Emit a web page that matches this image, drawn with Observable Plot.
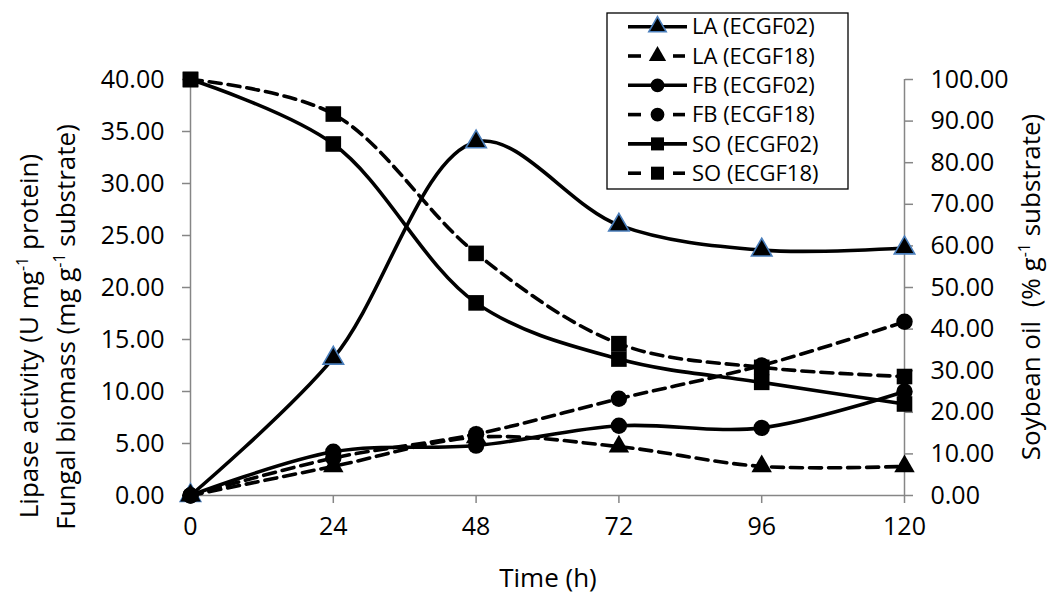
<!DOCTYPE html>
<html>
<head>
<meta charset="utf-8">
<script src="https://cdn.jsdelivr.net/npm/d3@7"></script>
<script src="https://cdn.jsdelivr.net/npm/@observablehq/plot@0.6"></script>
<style>
  body { margin: 0; background: #fff; font-family: "Open Sans", sans-serif; }
  #wrap { position: relative; width: 1047px; height: 594px; overflow: hidden; }
</style>
</head>
<body>
<div id="wrap"></div>
<script>
// ---- data ----
const time = [0, 24, 48, 72, 96, 120];
const xTicks = [0, 24, 48, 72, 96, 120];
const leftTicks = [0, 5, 10, 15, 20, 25, 30, 35, 40];
const rightTicks = [0, 10, 20, 30, 40, 50, 60, 70, 80, 90, 100];

// Lipase activity (U mg-1 protein) – left axis
const laECGF02 = [0, 13.2, 34.0, 26.0, 23.6, 23.8];
const laECGF18 = [0, 2.8, 5.6, 4.7, 2.8, 2.8];
// Fungal biomass (mg g-1 substrate) – left axis
const fbECGF02 = [0, 4.2, 4.8, 6.7, 6.5, 10.0];
const fbECGF18 = [0, 3.6, 5.9, 9.3, 12.5, 16.7];
// Soybean oil (% g-1 substrate) – right axis
const soECGF02 = [100, 84.5, 46.3, 32.8, 27.2, 22.0];
const soECGF18 = [100, 91.7, 58.2, 36.5, 30.8, 28.6];

const seriesNames = ["LA (ECGF02)", "LA (ECGF18)", "FB (ECGF02)", "FB (ECGF18)", "SO (ECGF02)", "SO (ECGF18)"];
const seriesValues = [laECGF02, laECGF18, fbECGF02, fbECGF18, soECGF02, soECGF18];
const seriesAxis = ["left", "left", "left", "left", "right", "right"];
const seriesDashed = [false, true, false, true, false, true];
const seriesSymbol = ["triangle", "triangle", "circle", "circle", "square", "square"];

const leftMax = 40, rightMax = 100;
const ratio = rightMax / leftMax;

const rows = [];
seriesNames.forEach((name, k) => {
  time.forEach((t, i) => {
    rows.push({ series: name, t, value: seriesValues[k][i], axis: seriesAxis[k], k });
  });
});
const yOf = d => d.axis === "right" ? d.value / ratio : d.value;

const grey = "#868686";
const markerStyle = {
  triangle: { r: 7.6 },
  circle: { r: 8.2 },
  square: { r: 8.8 }
};
const tickFont = 25;
const titleFont = 26;

const marks = [
  Plot.ruleY([0], { stroke: grey, strokeWidth: 1.5 }),
  Plot.ruleX([0], { stroke: grey, strokeWidth: 1.5 }),
  Plot.ruleX([120], { stroke: grey, strokeWidth: 1.5 }),
  Plot.axisX({ ticks: xTicks, tickSize: 8, tickPadding: 14, stroke: grey, strokeWidth: 1.5, fill: "#000", fontSize: tickFont, label: null, tickFormat: d => String(d) }),
  Plot.axisY({ anchor: "left", ticks: leftTicks, tickSize: 8, tickPadding: 18, stroke: grey, strokeWidth: 1.5, fill: "#000", fontSize: tickFont, label: null, tickFormat: d => d.toFixed(2) }),
  Plot.axisY({ anchor: "right", ticks: rightTicks.map(v => v / ratio), tickSize: 8, tickPadding: 18, stroke: grey, strokeWidth: 1.5, fill: "#000", fontSize: tickFont, label: null, tickFormat: d => (d * ratio).toFixed(2) })
];

seriesNames.forEach((name, k) => {
  const data = rows.filter(d => d.k === k);
  marks.push(Plot.line(data, {
    x: "t", y: yOf, curve: "catmull-rom", stroke: "#000", strokeWidth: 3.6,
    strokeDasharray: seriesDashed[k] ? "12,7" : null
  }));
});
seriesNames.forEach((name, k) => {
  const data = rows.filter(d => d.k === k);
  const sym = seriesSymbol[k];
  marks.push(Plot.dot(data, {
    x: "t", y: yOf, symbol: sym, r: markerStyle[sym].r, fill: "#000",
    stroke: k === 0 ? "#4A7EBB" : "none", strokeWidth: k === 0 ? 1.6 : 0
  }));
});

const chart = Plot.plot({
  width: 1047, height: 594,
  marginLeft: 190, marginRight: 143, marginTop: 79, marginBottom: 99,
  style: { fontFamily: "'Open Sans', sans-serif", background: "#fff", overflow: "visible" },
  x: { domain: [0, 120] },
  y: { domain: [0, leftMax] },
  marks
});
const wrap = document.getElementById("wrap");
wrap.appendChild(chart);

// ---- titles (SVG text, superscripts as tspans) ----
const svg = d3.select(chart);
function addTitle(parts, x, y, rotate) {
  const t = svg.append("text")
    .attr("transform", `translate(${x},${y})` + (rotate ? " rotate(-90)" : ""))
    .attr("text-anchor", "middle").attr("dy", "0.35em")
    .attr("font-family", "'Open Sans', sans-serif").attr("font-size", titleFont).attr("fill", "#000");
  let raised = false;
  parts.forEach(p => {
    const s = t.append("tspan").text(p.text);
    if (p.sup) {
      s.attr("font-size", Math.round(titleFont * 0.62)).attr("dy", -10);
      raised = true;
    } else if (raised) {
      s.attr("dy", 10);
      raised = false;
    }
  });
}
addTitle([{ text: "Lipase activity (U mg" }, { text: "-1", sup: true }, { text: " protein)" }], 29, 336, true);
addTitle([{ text: "Fungal biomass (mg g" }, { text: "-1", sup: true }, { text: " substrate)" }], 66, 327, true);
addTitle([{ text: "Soybean oil\u00a0 (% g" }, { text: "-1", sup: true }, { text: " substrate)" }], 1031, 287, true);
addTitle([{ text: "Time (h)" }], 548, 578, false);

// ---- legend (drawn in the same SVG) ----
const lg = svg.append("g").attr("transform", "translate(607,13)").attr("text-anchor", "start");
lg.append("rect").attr("x", 0).attr("y", 0).attr("width", 241).attr("height", 176)
  .attr("fill", "#fff").attr("stroke", "#000").attr("stroke-width", 1.3);
const symGen = { triangle: d3.symbolTriangle, circle: d3.symbolCircle, square: d3.symbolSquare };
const legSize = { triangle: 130, circle: 150, square: 170 };
seriesNames.forEach((name, k) => {
  const cy = 13.7 + k * 29.3;
  const g = lg.append("g");
  if (seriesDashed[k]) {
    [[21, 34], [66, 78]].forEach(([a, b]) => {
      g.append("line").attr("x1", a).attr("x2", b).attr("y1", cy).attr("y2", cy)
        .attr("stroke", "#000").attr("stroke-width", 3.6);
    });
  } else {
    g.append("line").attr("x1", 21).attr("x2", 80).attr("y1", cy).attr("y2", cy)
      .attr("stroke", "#000").attr("stroke-width", 3.6);
  }
  g.append("path").attr("d", d3.symbol(symGen[seriesSymbol[k]], legSize[seriesSymbol[k]])())
    .attr("transform", `translate(50.5,${cy})`).attr("fill", "#000")
    .attr("stroke", k === 0 ? "#4A7EBB" : "none").attr("stroke-width", 1.6);
  g.append("text").attr("x", 85).attr("y", cy).attr("dy", "0.35em").attr("text-anchor", "start")
    .attr("font-size", 22).attr("font-family", "'Open Sans', sans-serif").attr("fill", "#000").text(name);
});
</script>
</body>
</html>
